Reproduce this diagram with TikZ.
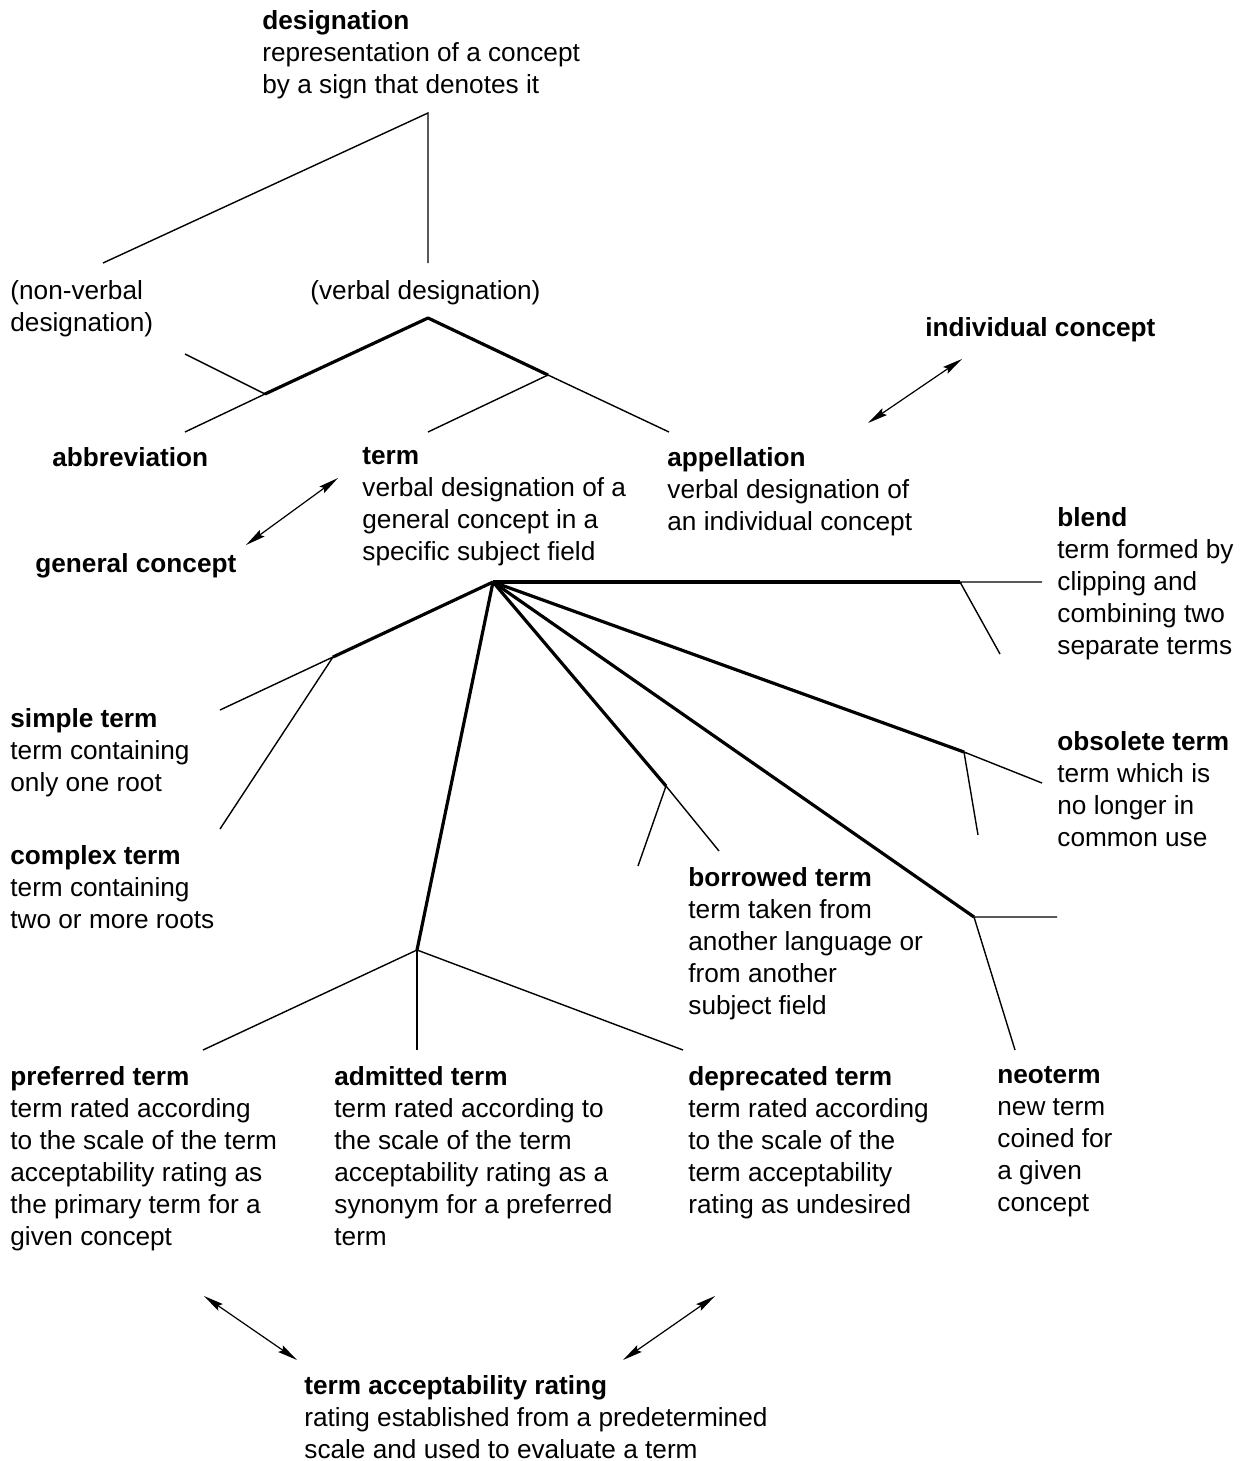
\documentclass[tikz,border=0pt]{standalone}
\usepackage{fontspec}
\setmainfont{Liberation Sans}
\usetikzlibrary{arrows.meta}
\tikzset{
	txt/.style={anchor=north west,inner sep=0pt,align=left,font=\fontsize{13.1}{16}\selectfont},
	branch/.style={line width=1.6pt,line join=round},
	twig/.style={line width=.7pt},
	rel/.style={line width=.6pt,{Stealth[length=10pt,width=4pt,inset=1.5pt]}-{Stealth[length=10pt,width=4pt,inset=1.5pt]}}
}
\begin{document}
\begin{tikzpicture}[x=.5pt,y=-.5pt]
\useasboundingbox (0,0) rectangle (1245,1461);
\begin{scope}
	\node[txt] (desig) at (262,10) {\textbf{designation}\\representation of a concept\\by a sign that denotes it};
	\node[txt] (nonverb) at (10,280) {(non-verbal\\designation)};
	\node[txt] (verb) at (310,280) {(verbal designation)};
	\coordinate (d0) at (428,113);
	\coordinate (d1) at (103,263);
	\coordinate (d2) at (428,263);
	\draw[twig] (d1) -- (d0) -- (d2);
\end{scope}
\begin{scope}
	\node[txt] (abbr) at (52,447) {\textbf{abbreviation}};
	\node[txt] (term) at (362,447) {\textbf{term}\\verbal designation of a\\general concept in a\\specific subject field};
	\node[txt] (appel) at (667,447) {\textbf{appellation}\\verbal designation of\\an individual concept};
	\node[txt] (indiv) at (925,317) {\textbf{individual concept}};
	\node[txt] (gencon) at (35,553) {\textbf{general concept}};
	\coordinate (v0) at (428,318);
	\coordinate (v1) at (265,394);
	\coordinate (v2) at (548,375);
	\coordinate (a1) at (185,354);
	\coordinate (a2) at (185,432);
	\coordinate (t1) at (428,432);
	\coordinate (t2) at (669,432);
	\draw[branch] (v1) -- (v0) -- (v2);
	\draw[twig] (a1) -- (v1) -- (a2);
	\draw[twig] (t1) -- (v2) -- (t2);
	\coordinate (ic1) at (868,423);
	\coordinate (ic2) at (962,359);
	\draw[rel] (ic1) -- (ic2);
	\coordinate (gc1) at (246,545);
	\coordinate (gc2) at (338,478);
	\draw[rel] (gc1) -- (gc2);
\end{scope}
\begin{scope}
	\node[txt] (blend) at (1057,507) {\textbf{blend}\\term formed by\\clipping and\\combining two\\separate terms};
	\node[txt] (simple) at (10,708) {\textbf{simple term}\\term containing\\only one root};
	\node[txt] (complex) at (10,845) {\textbf{complex term}\\term containing\\two or more roots};
	\node[txt] (obsol) at (1057,731) {\textbf{obsolete term}\\term which is\\no longer in\\common use};
	\node[txt] (borrow) at (688,867) {\textbf{borrowed term}\\term taken from\\another language or\\from another\\subject field};
	\coordinate (t0) at (493,582);
	\coordinate (s0) at (333,657);
	\coordinate (p0) at (417,950);
	\coordinate (b0) at (666,786);
	\coordinate (n0) at (974,917);
	\coordinate (o0) at (964,752);
	\coordinate (l0) at (960,582);
	\foreach \e in {s0,p0,b0,n0,o0,l0}
		\draw[branch] (t0) -- (\e);
	\draw[twig] (220,710) coordinate (s1) -- (s0) -- (220,829) coordinate (s2);
	\draw[twig] (638,866) coordinate (b1) -- (b0) -- (719,851) coordinate (b2);
	\draw[twig] (1057,917) coordinate (n1) -- (n0) -- (1015,1050) coordinate (n2);
	\draw[twig] (1042,783) coordinate (o1) -- (o0) -- (978,835) coordinate (o2);
	\draw[twig] (1042,582) coordinate (l1) -- (l0) -- (1000,654) coordinate (l2);
	\draw[twig] (203,1050) coordinate (p1) -- (p0) -- (683,1050) coordinate (p3);
	\draw[twig] (p0) -- (417,1050) coordinate (p2);
\end{scope}
\begin{scope}
	\node[txt] (pref) at (10,1066) {\textbf{preferred term}\\term rated according\\to the scale of the term\\acceptability rating as\\the primary term for a\\given concept};
	\node[txt] (admit) at (334,1066) {\textbf{admitted term}\\term rated according to\\the scale of the term\\acceptability rating as a\\synonym for a preferred\\term};
	\node[txt] (deprec) at (688,1066) {\textbf{deprecated term}\\term rated according\\to the scale of the\\term acceptability\\rating as undesired};
	\node[txt] (neo) at (997,1066) {\textbf{neoterm}\\new term\\coined for\\a given\\concept};
	\node[txt] (rating) at (304,1375) {\textbf{term acceptability rating}\\rating established from a predetermined\\scale and used to evaluate a term};
	\coordinate (r1) at (204,1296);
	\coordinate (r2) at (297,1360);
	\coordinate (r3) at (715,1296);
	\coordinate (r4) at (623,1360);
	\draw[rel] (r1) -- (r2);
	\draw[rel] (r3) -- (r4);
\end{scope}
\end{tikzpicture}
\end{document}
